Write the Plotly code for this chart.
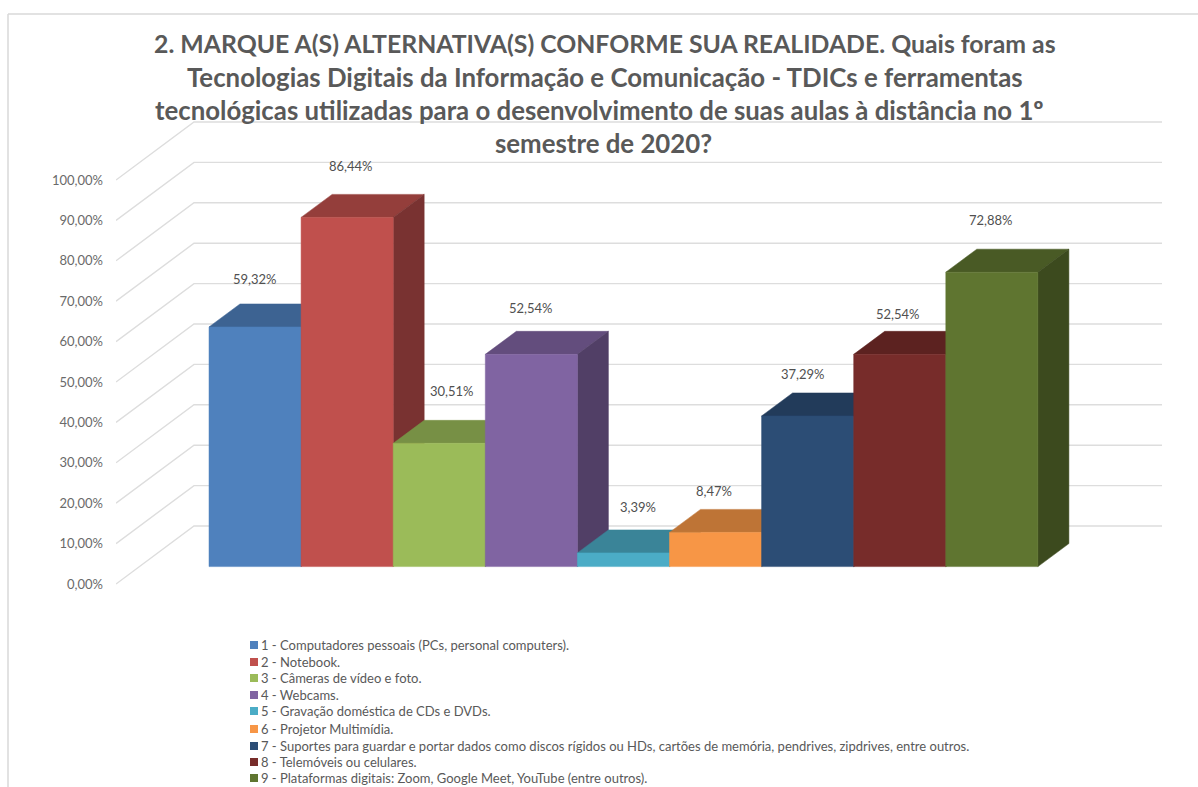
import plotly.graph_objects as go

FONT = "Lato"
W, H = 1198, 787

title_lines = [
    "2. MARQUE A(S) ALTERNATIVA(S) CONFORME SUA REALIDADE. Quais foram as",
    "Tecnologias Digitais da Informação e Comunicação - TDICs e ferramentas",
    "tecnológicas utilizadas para o desenvolvimento de suas aulas à distância no 1º",
    "semestre de 2020?",
]
categories = [
    "1 - Computadores pessoais (PCs, personal computers).",
    "2 - Notebook.",
    "3 - Câmeras de vídeo e foto.",
    "4 - Webcams.",
    "5 - Gravação doméstica de CDs e DVDs.",
    "6 - Projetor Multimídia.",
    "7 - Suportes para guardar e portar dados como discos rígidos ou HDs, cartões de memória, pendrives, zipdrives, entre outros.",
    "8 - Telemóveis ou celulares.",
    "9 - Plataformas digitais: Zoom, Google Meet, YouTube (entre outros).",
]
values = [59.32, 86.44, 30.51, 52.54, 3.39, 8.47, 37.29, 52.54, 72.88]
colors = ["#4F81BD", "#C0504D", "#9BBB59", "#8064A2", "#4BACC6",
          "#F79646", "#2C4D75", "#772C2A", "#5F7530"]
label_dx = [0, 4, 13, 0, 15, -2, -5, -2, -1]
label_dy = [48, 51, 52, 46, 46, 41, 42, 40, 52]
ticks = list(range(0, 101, 10))

# pixel layout of the pseudo-3D projection
PX_SLOT, PX_PCT = 92.1, 4.04
X0, Y0 = 209, 584            # slot 0 / value 0 on the front wall edge
LEFT, RIGHT, TOP, BOTTOM = 116, 1198, 100, 600
shift = 17.4 / PX_PCT        # bars stand in front of the wall, above its front edge
dep_x, dep_y = 31 / PX_SLOT, 23 / PX_PCT
wall_x0 = (116 - X0) / PX_SLOT
wall_x1 = (194 - X0) / PX_SLOT
wall_x2 = (1162 - X0) / PX_SLOT
wall_dy = 58 / PX_PCT


def shade(hex_color, k):
    r, g, b = [int(hex_color[i:i + 2], 16) for i in (1, 3, 5)]
    return f"rgb({round(r * k)},{round(g * k)},{round(b * k)})"


def pct(v):
    return f"{v:.2f}".replace(".", ",") + "%"


fig = go.Figure()

for t in ticks:
    fig.add_trace(go.Scatter(
        x=[wall_x0, wall_x1, wall_x2], y=[t, t + wall_dy, t + wall_dy],
        mode="lines", line=dict(color="#DDDDDD", width=1.4),
        showlegend=False, hoverinfo="skip"))


def face(xs, ys, color, name=None):
    fig.add_trace(go.Scatter(
        x=xs, y=ys, mode="lines", fill="toself", fillcolor=color,
        line=dict(color=color, width=0.5), showlegend=False,
        name=name or "", hoverinfo="name" if name else "skip"))


for i, (name, v, c) in enumerate(zip(categories, values, colors)):
    x0, x1 = i, i + 1
    y0, y1 = shift, shift + v
    face([x0, x0 + dep_x, x1 + dep_x, x1, x0], [y1, y1 + dep_y, y1 + dep_y, y1, y1], shade(c, 0.77))
    face([x1, x1 + dep_x, x1 + dep_x, x1, x1], [y0, y0 + dep_y, y1 + dep_y, y1, y0], shade(c, 0.63))
    face([x0, x1, x1, x0, x0], [y0, y0, y1, y1, y0], c, name)

annotations = []
for i, v in enumerate(values):
    annotations.append(dict(
        x=i + 0.5, y=shift + v, xref="x", yref="y", text=pct(v), showarrow=False,
        xshift=label_dx[i], yshift=label_dy[i], xanchor="center", yanchor="middle",
        font=dict(family=FONT, size=13, color="#505050")))

title_y = [43, 77, 110, 143]
title_x = [605, 605, 599, 603]
title_size = [24.8, 25.8, 25.8, 25.8]
for line, x, y, s in zip(title_lines, title_x, title_y, title_size):
    annotations.append(dict(
        x=x / W, y=1 - y / H, xref="paper", yref="paper", text=f"<b>{line}</b>",
        showarrow=False, xanchor="center", yanchor="middle",
        font=dict(family=FONT, size=s, color="#595959")))

legend_y = [645, 662, 678, 695, 711, 729, 746, 762, 778]
shapes = [
    dict(type="line", xref="paper", yref="paper", x0=8 / W, x1=1, y0=1 - 14 / H, y1=1 - 14 / H,
         line=dict(color="#D9D9D9", width=1.5)),
    dict(type="line", xref="paper", yref="paper", x0=8 / W, x1=8 / W, y0=1 - 14 / H, y1=0,
         line=dict(color="#D9D9D9", width=1.5)),
]
for name, c, y in zip(categories, colors, legend_y):
    shapes.append(dict(type="rect", xref="paper", yref="paper", x0=250 / W, x1=258 / W,
                       y0=1 - (y + 4) / H, y1=1 - (y - 4) / H, fillcolor=c,
                       line=dict(width=0)))
    annotations.append(dict(
        x=258.5 / W, y=1 - y / H, xref="paper", yref="paper", text=name, showarrow=False,
        xanchor="left", yanchor="middle",
        font=dict(family=FONT, size=13, color="#595959")))

fig.update_layout(
    width=W, height=H, autosize=False, showlegend=False,
    margin=dict(l=0, r=0, t=0, b=0, pad=0),
    paper_bgcolor="white", plot_bgcolor="white", separators=",.",
    annotations=annotations, shapes=shapes,
    xaxis=dict(domain=[LEFT / W, RIGHT / W],
               range=[(LEFT - X0) / PX_SLOT, (RIGHT - X0) / PX_SLOT],
               visible=False, fixedrange=True),
    yaxis=dict(domain=[1 - BOTTOM / H, 1 - TOP / H],
               range=[(Y0 - BOTTOM) / PX_PCT, (Y0 - TOP) / PX_PCT],
               tickmode="array", tickvals=ticks, ticktext=[pct(t) for t in ticks],
               showgrid=False, zeroline=False, showline=False, ticks="",
               ticklabelstandoff=12, fixedrange=True,
               tickfont=dict(family=FONT, size=13, color="#6A6A6A")),
)

fig.write_html("out.html", config=dict(displayModeBar=False),
               post_script="document.body.style.margin='0';document.body.style.overflow='hidden';")
